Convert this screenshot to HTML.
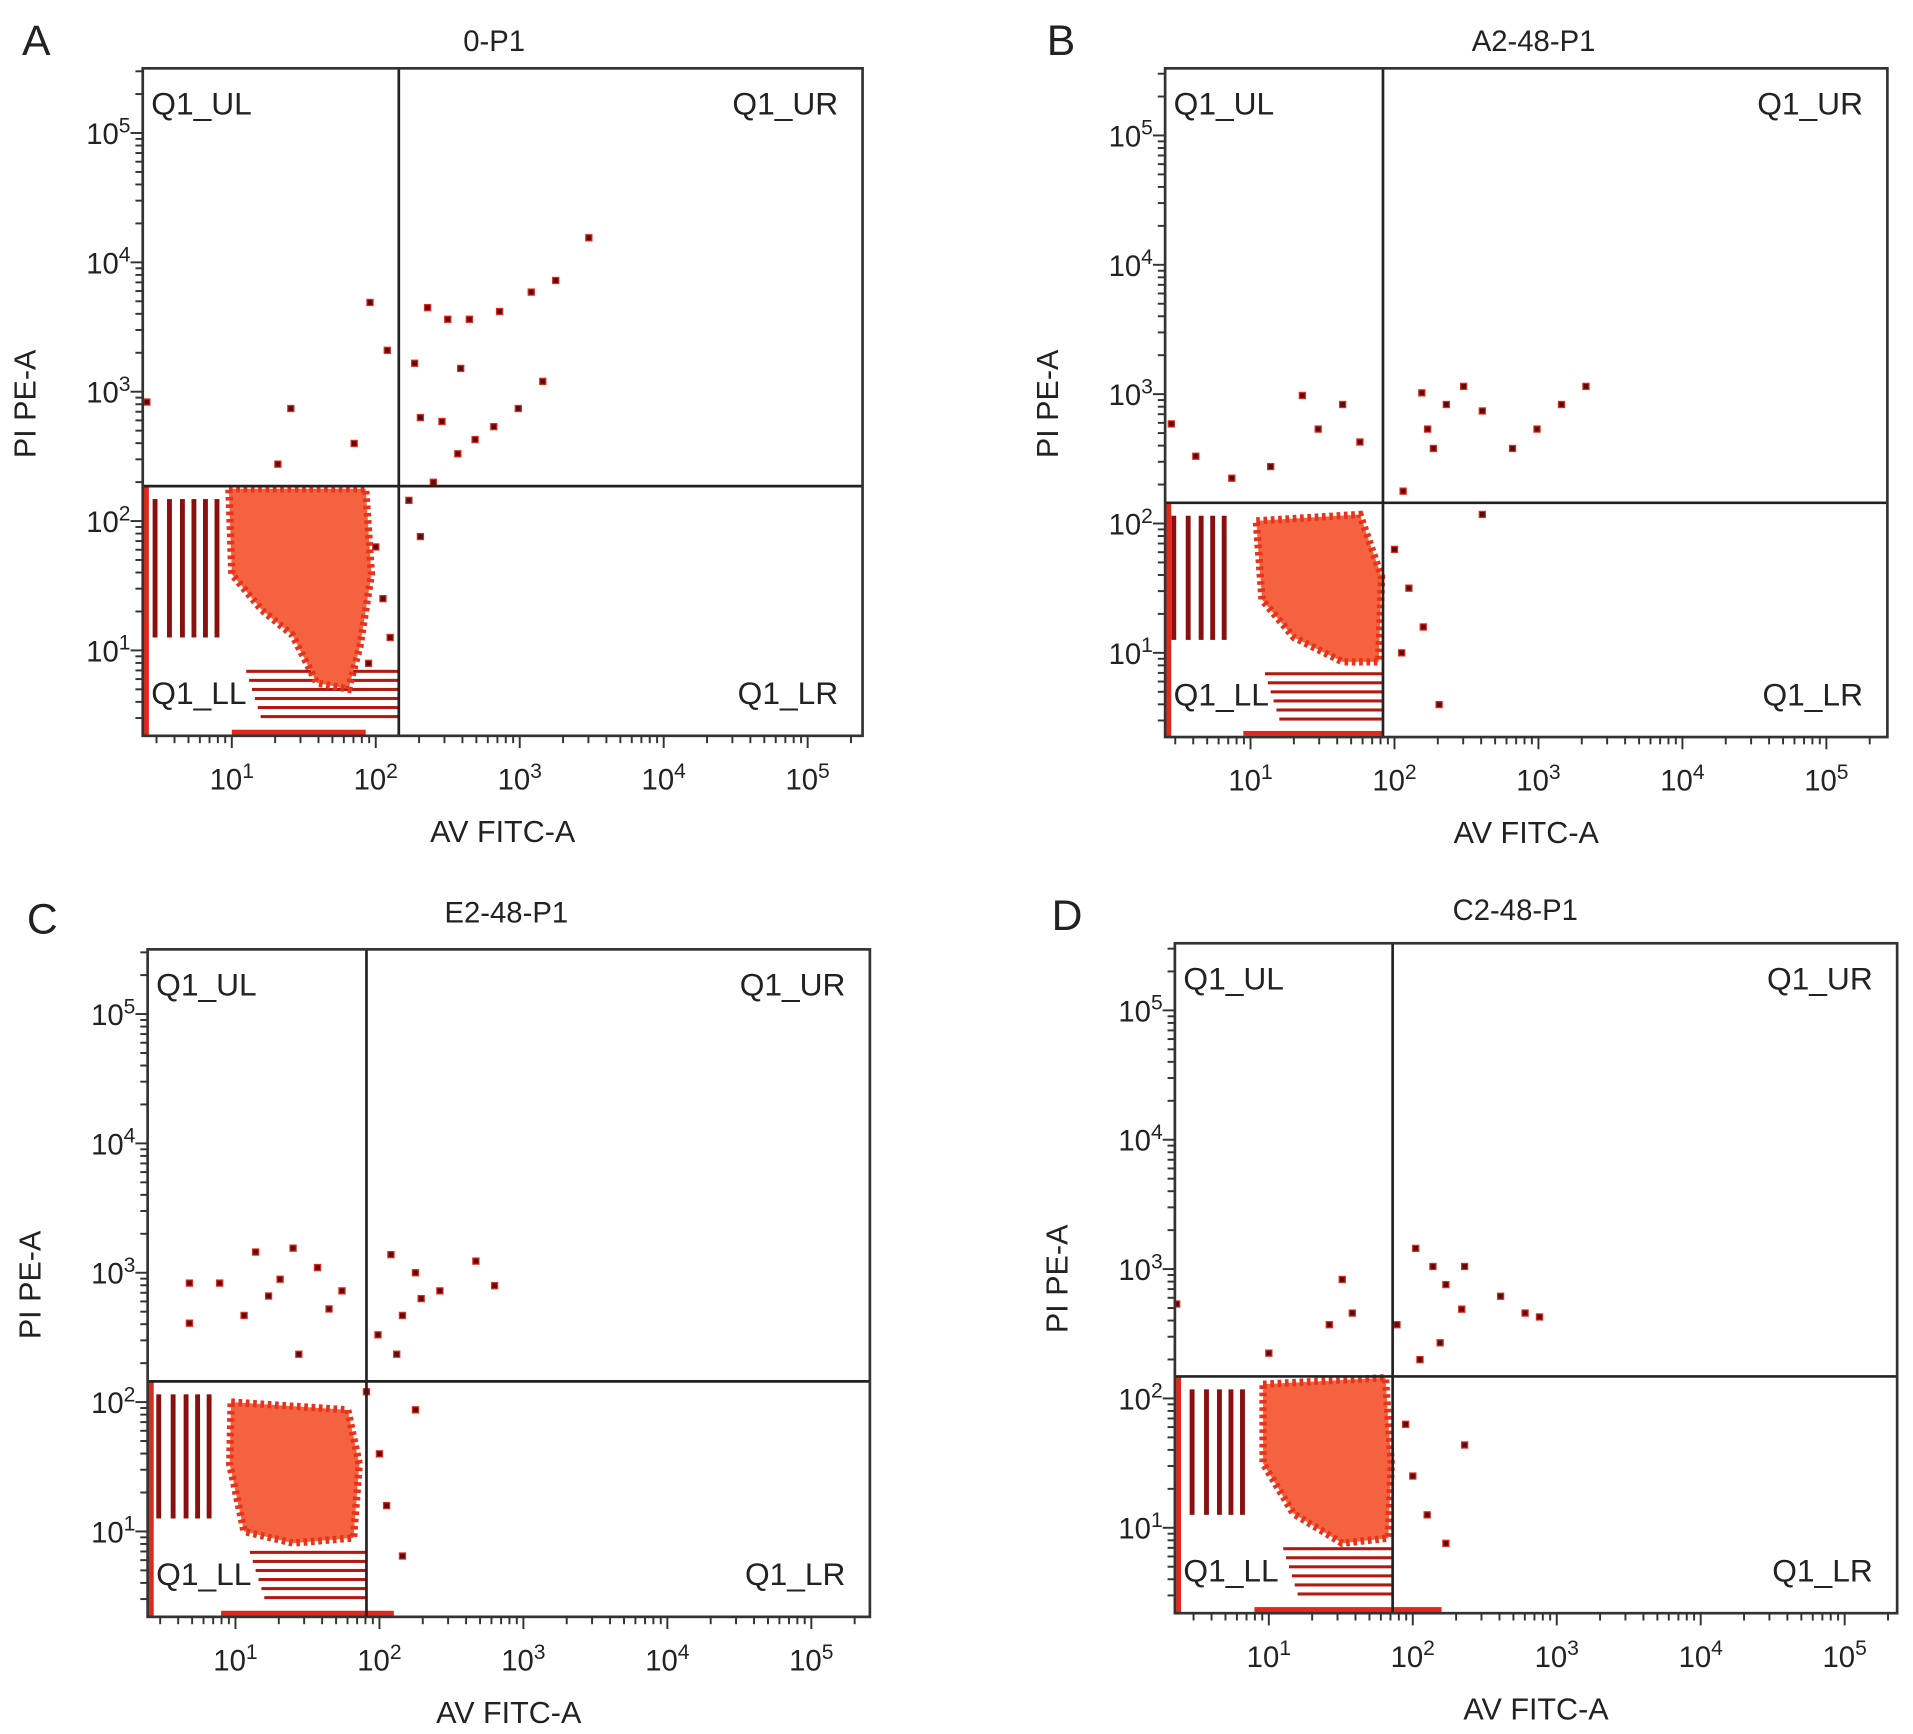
<!DOCTYPE html>
<html><head><meta charset="utf-8"><style>
html,body{margin:0;padding:0;background:#fff}
svg{display:block}
text{font-family:"Liberation Sans",sans-serif;fill:#222}
</style></head><body>
<svg id="fig" width="1913" height="1734" viewBox="0 0 1568 1421" preserveAspectRatio="none" xmlns="http://www.w3.org/2000/svg"></svg>
<script>
// ---- data (log10 coordinates) ----
const panelLetters = ["A","B","C","D"];
const panelTitles = ["0-P1","A2-48-P1","E2-48-P1","C2-48-P1"];
const gateX = [2.16, 1.92, 1.91, 1.86];   // vertical quadrant gate (log10 AV)
const gateY = [2.27, 2.16, 2.16, 2.17];   // horizontal quadrant gate (log10 PI)
const tickDecades = [1,2,3,4,5];
const clusterA = [[0.98,2.25],[1.93,2.25],[1.97,1.59],[1.89,1.03],[1.81,0.70],[1.59,0.75],[1.42,1.12],[1.21,1.31],[1.0,1.59]];
const clusterB = [[1.04,2.02],[1.76,2.07],[1.91,1.59],[1.89,0.93],[1.64,0.93],[1.30,1.12],[1.08,1.41]];
const clusterC = [[0.97,2.0],[1.78,1.94],[1.86,1.52],[1.82,0.95],[1.40,0.91],[1.06,1.0],[0.96,1.52]];
const clusterD = [[0.96,2.11],[1.81,2.16],[1.85,1.50],[1.83,0.92],[1.51,0.88],[1.17,1.11],[0.96,1.50]];
const dotsA = [[3.48,4.19],[3.25,3.86],[3.08,3.77],[2.86,3.62],[2.65,3.56],[2.36,3.65],[2.5,3.56],[2.27,3.22],[2.59,3.18],[3.16,3.08],[2.99,2.87],[2.82,2.73],[2.69,2.63],[2.57,2.52],[2.31,2.8],[2.46,2.77],[2.23,2.16],[2.31,1.88],[1.96,3.69],[2.08,3.32],[1.41,2.87],[1.85,2.6],[1.32,2.44],[0.41,2.92],[2.0,1.8],[2.05,1.4],[2.1,1.1],[1.95,0.9],[2.4,2.3]];
const dotsB = [[3.33,3.06],[3.16,2.92],[2.99,2.73],[2.82,2.58],[2.48,3.06],[2.36,2.92],[2.23,2.73],[2.27,2.58],[2.61,2.87],[2.19,3.01],[1.36,2.99],[1.64,2.92],[1.47,2.73],[1.76,2.63],[1.14,2.44],[2.06,2.25],[2.61,2.07],[2.31,0.6],[0.45,2.77],[0.62,2.52],[0.87,2.35],[2.0,1.8],[2.1,1.5],[2.2,1.2],[2.05,1.0]];
const dotsC = [[1.4,3.19],[1.14,3.16],[0.89,2.92],[0.68,2.92],[0.68,2.61],[1.06,2.67],[1.31,2.95],[1.57,3.04],[1.74,2.86],[1.44,2.37],[2.08,3.14],[2.25,3.0],[2.67,3.09],[2.80,2.9],[2.42,2.86],[2.16,2.67],[1.99,2.52],[2.29,2.8],[2.12,2.37],[2.25,1.94],[2.16,0.81],[1.91,2.08],[1.65,2.72],[1.23,2.82],[2.0,1.6],[2.05,1.2]];
const dotsD = [[2.02,3.16],[2.14,3.02],[2.23,2.88],[2.36,3.02],[2.34,2.69],[2.61,2.79],[2.78,2.66],[2.88,2.63],[1.51,2.92],[1.58,2.66],[1.89,2.57],[1.42,2.57],[2.19,2.43],[2.36,1.64],[2.23,0.88],[0.36,2.73],[1.0,2.35],[1.95,1.8],[2.0,1.4],[2.1,1.1],[2.05,2.3]];
const stripesA = [0.45,0.55,0.64,0.72,0.80,0.88];
const stripesB = [0.45,0.55,0.64,0.72,0.80];
const stripesC = [0.45,0.55,0.64,0.72,0.80];
const stripesD = [0.45,0.55,0.64,0.72,0.80];
const baseBar = [[1.0,1.93],[0.95,1.92],[0.9,2.1],[0.9,2.2]];
// ---- layout ----
const layout = [
 {bx:117,by:56,bw:590,bh:547,x1:190,dx:118,y1:533,dy:106,lx:18,ly:45,tx:405,ty:42},
 {bx:955,by:56,bw:592,bh:548,x1:1025,dx:118,y1:535,dy:106,lx:858,ly:45,tx:1257,ty:42},
 {bx:121,by:778,bw:592,bh:547,x1:193,dx:118,y1:1255,dy:106,lx:22,ly:765,tx:415,ty:756},
 {bx:963,by:773,bw:592,bh:549,x1:1040,dx:118,y1:1252,dy:106,lx:862,ly:762,tx:1242,ty:754}
];
const clusters=[clusterA,clusterB,clusterC,clusterD];
const dots=[dotsA,dotsB,dotsC,dotsD];
const stripes=[stripesA,stripesB,stripesC,stripesD];
const NS="http://www.w3.org/2000/svg";
const svg=document.getElementById('fig');
function mk(tag,attrs,parent){const e=document.createElementNS(NS,tag);for(const k in attrs)e.setAttribute(k,attrs[k]);(parent||svg).appendChild(e);return e;}
function supText(g,x,y,base,exp,size,anchor){
  const t=mk('text',{x:x,y:y,'font-size':size,'text-anchor':anchor||'middle'},g);
  const a=document.createElementNS(NS,'tspan');a.textContent=base;t.appendChild(a);
  const b=document.createElementNS(NS,'tspan');b.setAttribute('dy',-size*0.4);b.setAttribute('font-size',size*0.72);b.textContent=exp;t.appendChild(b);
  return t;
}
layout.forEach((L,i)=>{
  const X=v=>L.x1+(v-1)*L.dx, Y=v=>L.y1-(v-1)*L.dy;
  const g=mk('g',{});
  
  
  const clip=mk('clipPath',{id:'c'+i},g);mk('rect',{x:L.bx,y:L.by,width:L.bw,height:L.bh},clip);
  const plot=mk('g',{'clip-path':'url(#c'+i+')'},g);
  
  
  const edge=mk('rect',{x:L.bx+1,y:Y(gateY[i]),width:4,height:L.by+L.bh-Y(gateY[i]),fill:'#e0281c'},plot);
  
  
  stripes[i].forEach(s=>{
    const r=mk('rect',{x:X(s),y:Y(gateY[i]-0.1),width:4,height:Y(1.1)-Y(gateY[i]-0.1),fill:'#8a1010'},plot);
    
    
  });
  for(let k=0;k<6;k++){
    const yv=0.85-k*0.07;
    const r=mk('rect',{x:X(1.1+k*0.02),y:Y(yv),width:X(gateX[i])-X(1.1+k*0.02),height:2.5,fill:'#b01a12'},plot);
    
    
  }
  const poly=mk('polygon',{points:clusters[i].map(p=>X(p[0])+','+Y(p[1])).join(' '),fill:'#f4623f',stroke:'#e8331c','stroke-width':6,'stroke-dasharray':'3 3'},plot);
  
  
  const bb=baseBar[i];
  const bar=mk('rect',{x:X(bb[0]),y:L.by+L.bh-5,width:X(bb[1])-X(bb[0]),height:4,fill:'#e0281c'},plot);
  
  
  dots[i].forEach(p=>{
    const c=mk('rect',{x:X(p[0])-2.5,y:Y(p[1])-2.5,width:5,height:5,fill:'#5a0c0c',stroke:'#e0281c','stroke-width':1},plot);
    
    
  });
  const gv=mk('line',{x1:X(gateX[i]),x2:X(gateX[i]),y1:L.by,y2:L.by+L.bh,stroke:'#222','stroke-width':2.2},g);
  
  
  const gh=mk('line',{x1:L.bx,x2:L.bx+L.bw,y1:Y(gateY[i]),y2:Y(gateY[i]),stroke:'#222','stroke-width':2.2},g);
  
  
  const box=mk('rect',{x:L.bx,y:L.by,width:L.bw,height:L.bh,fill:'none',stroke:'#333','stroke-width':2.2},g);
  
  
  const tg=mk('g',{stroke:'#333','stroke-width':1.6},g);
  
  
  for(let d=0;d<=5;d++)for(let m=1;m<=9;m++){
    const v=d+Math.log10(m);
    const len=m===1?10:6;
    const xx=X(v); if(xx>L.bx && xx<L.bx+L.bw) mk('line',{x1:xx,x2:xx,y1:L.by+L.bh,y2:L.by+L.bh+len},tg);
    const yy=Y(v); if(yy>L.by && yy<L.by+L.bh) mk('line',{x1:L.bx,x2:L.bx-len,y1:yy,y2:yy},tg);
  }
  tickDecades.forEach(d=>{
    const tx=supText(g,X(d),L.by+L.bh+44,'10',String(d),24);
    
    
    const ty=supText(g,L.bx-10,Y(d)+9,'10',String(d),24,'end');
    
    
  });
  const ql=[['Q1_UL',L.bx+7,L.by+38,'start'],['Q1_UR',L.bx+L.bw-20,L.by+38,'end'],['Q1_LL',L.bx+7,L.by+L.bh-26,'start'],['Q1_LR',L.bx+L.bw-20,L.by+L.bh-26,'end']];
  ql.forEach(q=>{const t=mk('text',{x:q[1],y:q[2],'font-size':26,'text-anchor':q[3]},g);t.textContent=q[0];
    
    });
  const xt=mk('text',{x:L.bx+L.bw/2,y:L.by+L.bh+87,'font-size':25,'text-anchor':'middle'},g);xt.textContent='AV FITC-A';
  
  
  const yt=mk('text',{x:0,y:0,'font-size':25,'text-anchor':'middle',transform:'translate('+(L.bx-88)+','+(L.by+275)+') rotate(-90)'},g);yt.textContent='PI PE-A';
  
  
  const tt=mk('text',{x:L.tx,y:L.ty,'font-size':24,'text-anchor':'middle'},g);tt.textContent=panelTitles[i];
  
  
  const lt=mk('text',{x:L.lx,y:L.ly,'font-size':35},g);lt.textContent=panelLetters[i];
  
  
});
</script>
</body></html>
